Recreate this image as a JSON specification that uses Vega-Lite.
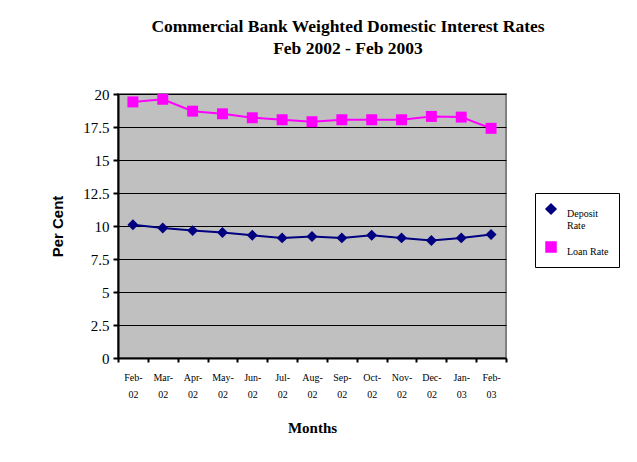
{
  "$schema": "https://vega.github.io/schema/vega-lite/v6.json",
  "width": 388,
  "height": 264,
  "autosize": {"type": "none"},
  "padding": {"left": 118, "top": 94, "right": 131, "bottom": 104},
  "background": "white",
  "title": {
    "text": ["Commercial Bank Weighted Domestic Interest Rates", "Feb 2002 - Feb 2003"],
    "font": "Liberation Serif",
    "fontSize": 17.5,
    "fontWeight": "bold",
    "color": "black",
    "anchor": "middle",
    "dx": 36,
    "lineHeight": 22,
    "offset": 30
  },
  "data": {
    "values": [
      {"month": "Feb-02", "series": "Deposit Rate", "rate": 10.1},
      {"month": "Mar-02", "series": "Deposit Rate", "rate": 9.85},
      {"month": "Apr-02", "series": "Deposit Rate", "rate": 9.65},
      {"month": "May-02", "series": "Deposit Rate", "rate": 9.5},
      {"month": "Jun-02", "series": "Deposit Rate", "rate": 9.3},
      {"month": "Jul-02", "series": "Deposit Rate", "rate": 9.1},
      {"month": "Aug-02", "series": "Deposit Rate", "rate": 9.2},
      {"month": "Sep-02", "series": "Deposit Rate", "rate": 9.1},
      {"month": "Oct-02", "series": "Deposit Rate", "rate": 9.3},
      {"month": "Nov-02", "series": "Deposit Rate", "rate": 9.1},
      {"month": "Dec-02", "series": "Deposit Rate", "rate": 8.9},
      {"month": "Jan-03", "series": "Deposit Rate", "rate": 9.1},
      {"month": "Feb-03", "series": "Deposit Rate", "rate": 9.35},
      {"month": "Feb-02", "series": "Loan Rate", "rate": 19.4},
      {"month": "Mar-02", "series": "Loan Rate", "rate": 19.6},
      {"month": "Apr-02", "series": "Loan Rate", "rate": 18.7},
      {"month": "May-02", "series": "Loan Rate", "rate": 18.5},
      {"month": "Jun-02", "series": "Loan Rate", "rate": 18.2},
      {"month": "Jul-02", "series": "Loan Rate", "rate": 18.05},
      {"month": "Aug-02", "series": "Loan Rate", "rate": 17.9},
      {"month": "Sep-02", "series": "Loan Rate", "rate": 18.05},
      {"month": "Oct-02", "series": "Loan Rate", "rate": 18.05},
      {"month": "Nov-02", "series": "Loan Rate", "rate": 18.05},
      {"month": "Dec-02", "series": "Loan Rate", "rate": 18.3},
      {"month": "Jan-03", "series": "Loan Rate", "rate": 18.25},
      {"month": "Feb-03", "series": "Loan Rate", "rate": 17.4}
    ]
  },
  "encoding": {
    "x": {
      "field": "month",
      "type": "ordinal",
      "sort": null,
      "scale": {"type": "band", "paddingInner": 0, "paddingOuter": 0},
      "axis": {
        "title": "Months",
        "titleFont": "Liberation Serif",
        "titleFontSize": 15,
        "titleFontWeight": "bold",
        "titleColor": "black",
        "titlePadding": 21,
        "labelFont": "Liberation Serif",
        "labelFontSize": 10,
        "labelColor": "black",
        "labelAngle": 0,
        "labelPadding": 10,
        "labelLineHeight": 17,
        "labelExpr": "isString(datum.value) ? [slice(datum.value, 0, 4), slice(datum.value, 4)] : ''",
        "tickBand": "extent",
        "tickColor": "black",
        "tickSize": 4,
        "tickWidth": 2,
        "domainColor": "black",
        "domainWidth": 2,
        "grid": false
      }
    },
    "y": {
      "field": "rate",
      "type": "quantitative",
      "scale": {"domain": [0, 20], "nice": false},
      "axis": {
        "title": "Per Cent",
        "titleFont": "Liberation Sans",
        "titleFontSize": 15,
        "titleFontWeight": "bold",
        "titleColor": "black",
        "titlePadding": 17,
        "values": [0, 2.5, 5, 7.5, 10, 12.5, 15, 17.5, 20],
        "format": ".3~g",
        "labelFont": "Liberation Serif",
        "labelFontSize": 15,
        "labelColor": "black",
        "labelPadding": 4,
        "tickColor": "black",
        "tickSize": 5,
        "tickWidth": 2,
        "domainColor": "black",
        "domainWidth": 2,
        "grid": true,
        "gridColor": "black",
        "gridWidth": 1,
        "gridOpacity": 1
      }
    },
    "color": {
      "field": "series",
      "type": "nominal",
      "scale": {"domain": ["Deposit Rate", "Loan Rate"], "range": ["#000080", "#FF00FF"]},
      "legend": {
        "title": null,
        "orient": "none",
        "legendX": 417,
        "legendY": 99,
        "strokeColor": "black",
        "fillColor": "white",
        "padding": 10,
        "rowPadding": 8,
        "labelFont": "Liberation Serif",
        "labelFontSize": 10,
        "labelColor": "black",
        "labelExpr": "datum.label == 'Deposit Rate' ? ['Deposit', 'Rate'] : datum.label",
        "labelLineHeight": 14,
        "labelBaseline": "top",
        "labelOffset": 10,
        "symbolSize": 100
      }
    }
  },
  "layer": [
    {"mark": {"type": "line", "strokeWidth": 2}},
    {
      "mark": {"type": "point", "filled": true, "opacity": 1},
      "encoding": {
        "shape": {
          "field": "series",
          "type": "nominal",
          "scale": {"domain": ["Deposit Rate", "Loan Rate"], "range": ["diamond", "square"]},
          "legend": null
        },
        "size": {"value": 120}
      }
    }
  ],
  "config": {
    "view": {"fill": "#C0C0C0", "stroke": "#808080", "strokeWidth": 2}
  }
}
